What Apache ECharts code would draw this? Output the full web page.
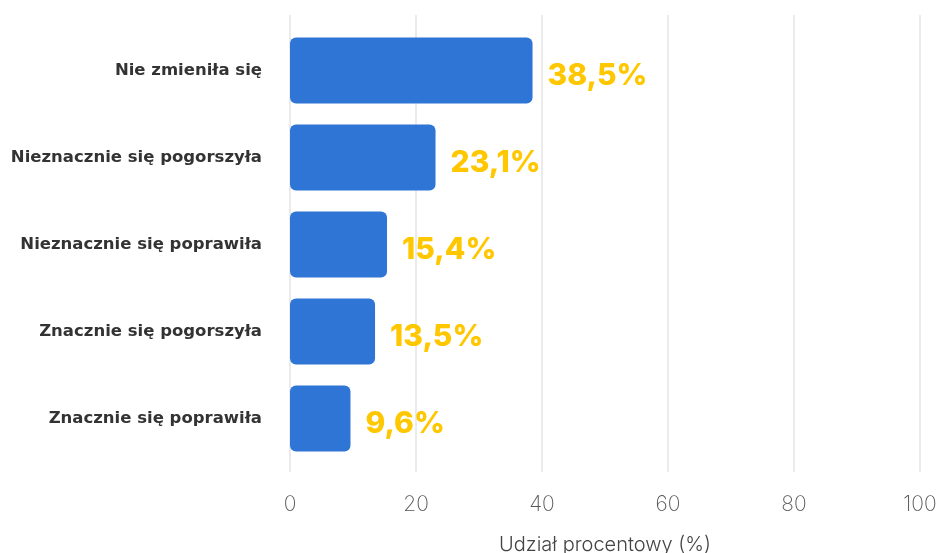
<!DOCTYPE html>
<html>
<head>
<meta charset="utf-8">
<script src="https://cdn.jsdelivr.net/npm/echarts@6/dist/echarts.min.js"></script>
<style>
  html, body { margin: 0; padding: 0; background: #fff; }
  #chart { width: 939px; height: 553px; }
</style>
</head>
<body>
<div id="chart"></div>
<script>
// Categories listed bottom-to-top (ECharts category y-axis starts at the bottom)
const categories = [
  'Znacznie się poprawiła',
  'Znacznie się pogorszyła',
  'Nieznacznie się poprawiła',
  'Nieznacznie się pogorszyła',
  'Nie zmieniła się'
];
const shares = [9.6, 13.5, 15.4, 23.1, 38.5];
const xTicks = [0, 20, 40, 60, 80, 100];
const xAxisTitle = 'Udział procentowy (%)';

const xMin = xTicks[0];
const xMax = xTicks[xTicks.length - 1];

const chart = echarts.init(document.getElementById('chart'));
chart.setOption({
  animation: false,
  grid: [
    // plotting area for the bars
    { left: 290, right: 19, top: 27, bottom: 91, outerBoundsMode: 'none', containLabel: false },
    // slightly taller area that only carries the vertical gridlines
    { left: 290, right: 19, top: 15, bottom: 81, outerBoundsMode: 'none', containLabel: false }
  ],
  xAxis: [{
    type: 'value',
    gridIndex: 0,
    min: xMin,
    max: xMax,
    interval: 20,
    name: xAxisTitle,
    nameLocation: 'middle',
    nameGap: 73,
    nameTextStyle: { fontFamily: 'Inter', fontWeight: 300, fontSize: 20, color: '#444' },
    axisLine: { show: false },
    axisTick: { show: false },
    axisLabel: { fontFamily: 'Inter', fontWeight: 200, fontSize: 21, color: '#555', margin: 32 },
    splitLine: { show: false }
  }, {
    type: 'value',
    gridIndex: 1,
    min: xMin,
    max: xMax,
    interval: 20,
    axisLine: { show: false },
    axisTick: { show: false },
    axisLabel: { show: false },
    splitLine: { show: true, lineStyle: { color: '#ebebeb', width: 2 } }
  }],
  yAxis: [{
    type: 'category',
    gridIndex: 0,
    data: categories,
    axisLine: { show: false },
    axisTick: { show: false },
    axisLabel: { fontFamily: 'DejaVu Sans', fontWeight: 'bold', fontSize: 16.5, color: '#333', margin: 28 }
  }, {
    type: 'value',
    gridIndex: 1,
    show: false
  }],
  series: [{
    type: 'bar',
    xAxisIndex: 0,
    yAxisIndex: 0,
    data: shares,
    barWidth: 66,
    itemStyle: { color: '#2f75d6', borderRadius: 6 },
    label: {
      show: true,
      position: 'right',
      distance: 15,
      offset: [0, 5],
      formatter: p => p.value.toFixed(1).replace('.', ',') + '%',
      fontFamily: 'Inter',
      fontWeight: 800,
      fontSize: 30,
      color: '#ffc700'
    }
  }]
});
</script>
</body>
</html>
